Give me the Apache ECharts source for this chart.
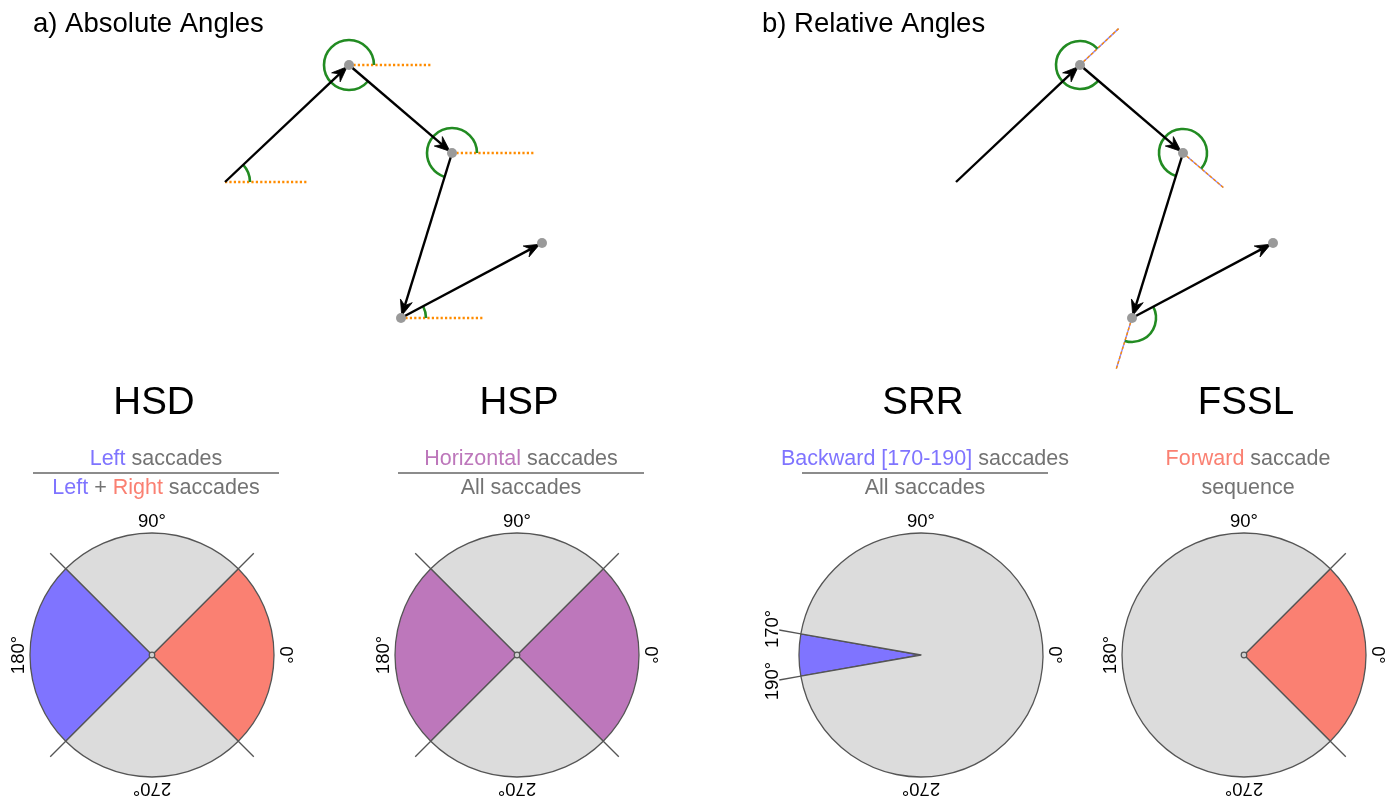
<!DOCTYPE html>
<html><head><meta charset="utf-8">
<script src="https://cdn.jsdelivr.net/npm/echarts@6/dist/echarts.min.js"></script>
<style>html,body{margin:0;padding:0;background:#fff}#c{width:1396px;height:802px}</style>
</head><body><div id="c"></div>
<script>
// ---------- DATA ----------
// Scan path: fixation positions (screen units, y up), same path in both panels
const fixX = [0, 124, 227, 176, 317];
const fixY = [0, 117, 29, -136, -61];

// Angular measures: sector spans in degrees (counter-clockwise from start angle)
const pieNames = ['HSD', 'HSP', 'SRR', 'FSSL'];
const hsdValues = [90, 90, 90, 90];
const hsdKinds = ['right', 'other', 'left', 'other'];
const hspValues = [90, 90, 90, 90];
const hspKinds = ['horizontal', 'other', 'horizontal', 'other'];
const srrValues = [20, 340];
const srrKinds = ['backward', 'other'];
const fsslValues = [90, 270];
const fsslKinds = ['forward', 'other'];
const pieStartAngles = [-45, -45, 170, -45];
const hsdTicks = [0, 90, 180, 270];
const hspTicks = [0, 90, 180, 270];
const srrTicks = [0, 90, 170, 190, 270];
const fsslTicks = [0, 90, 180, 270];

// ---------- STYLE ----------
const FONT = '"Liberation Sans", Arial, Helvetica, sans-serif';
const C = {
  blue: '#7f74ff', red: '#fa8072', purple: '#bd77bb', grey: '#dcdcdc',
  text: '#737373', edge: '#555555', green: '#228b22', orange: '#ff8c00'
};
const kindColor = { right: C.red, left: C.blue, horizontal: C.purple, backward: C.blue, forward: C.red, other: C.grey };
const pieCX = [152, 517, 921, 1244];
const pieCY = 655;
const R = 122;
const hubShown = [true, true, false, true];

const fractions = [
  { num: [['Left', C.blue], [' saccades', C.text]], den: [['Left', C.blue], [' + ', C.text], ['Right', C.red], [' saccades', C.text]], bar: true },
  { num: [['Horizontal', C.purple], [' saccades', C.text]], den: [['All saccades', C.text]], bar: true },
  { num: [['Backward [170-190]', C.blue], [' saccades', C.text]], den: [['All saccades', C.text]], bar: true },
  { num: [['Forward', C.red], [' saccade', C.text]], den: [['sequence', C.text]], bar: false }
];

// ---------- DERIVED ----------
const nFix = fixX.length;
const saccades = [];
const sacAngle = [];
for (let i = 0; i < nFix - 1; i++) {
  saccades.push([fixX[i], fixY[i], fixX[i + 1], fixY[i + 1]]);
  let a = Math.atan2(fixY[i + 1] - fixY[i], fixX[i + 1] - fixX[i]) * 180 / Math.PI;
  sacAngle.push((a + 360) % 360);
}
const dots = [];
for (let i = 1; i < nFix; i++) dots.push([fixX[i], fixY[i]]);
const absArcs = saccades.map((s, i) => [s[0], s[1], 0, sacAngle[i]]);
const absRefs = saccades.map(s => [s[0], s[1], 0]);
const relArcs = [], relRefs = [];
for (let i = 1; i < saccades.length; i++) {
  const sw = ((sacAngle[i] - sacAngle[i - 1]) % 360 + 360) % 360;
  relArcs.push([fixX[i], fixY[i], sacAngle[i - 1], sw]);
  relRefs.push([fixX[i], fixY[i], sacAngle[i - 1]]);
}

// ---------- RENDERERS ----------
function arrowRender(params, api) {
  const p0 = api.coord([api.value(0), api.value(1)]);
  const p1 = api.coord([api.value(2), api.value(3)]);
  const dx = p1[0] - p0[0], dy = p1[1] - p0[1], len = Math.hypot(dx, dy);
  const ux = dx / len, uy = dy / len, nx = -uy, ny = ux;
  const gap = 2.5, L = 15.5, W = 6.2, N = 10.5;
  const tip = [p1[0] - ux * gap, p1[1] - uy * gap];
  const back = [tip[0] - ux * L, tip[1] - uy * L];
  const notch = [tip[0] - ux * N, tip[1] - uy * N];
  return {
    type: 'group', children: [
      { type: 'line', shape: { x1: p0[0], y1: p0[1], x2: notch[0], y2: notch[1] }, style: { stroke: '#000', lineWidth: 2.4 } },
      { type: 'polygon', shape: { points: [tip, [back[0] + nx * W, back[1] + ny * W], notch, [back[0] - nx * W, back[1] - ny * W]] }, style: { fill: '#000', stroke: '#000', lineWidth: 0.8, lineJoin: 'miter' } }
    ]
  };
}
function arcRender(radius) {
  return function (params, api) {
    const c = api.coord([api.value(0), api.value(1)]);
    const a0 = api.value(2) * Math.PI / 180, sw = api.value(3) * Math.PI / 180;
    return { type: 'arc', shape: { cx: c[0], cy: c[1], r: radius, startAngle: -a0, endAngle: -(a0 + sw), clockwise: false },
      style: { stroke: C.green, lineWidth: 2.6, fill: 'none' } };
  };
}
function hRefRender(params, api) {
  const c = api.coord([api.value(0), api.value(1)]);
  return { type: 'line', shape: { x1: c[0], y1: c[1], x2: c[0] + 83, y2: c[1] },
    style: { stroke: C.orange, lineWidth: 2.3, lineDash: [2.2, 2.2] } };
}
function extRender(params, api) {
  const c = api.coord([api.value(0), api.value(1)]);
  const a = api.value(2) * Math.PI / 180, len = 53;
  const e = [c[0] + Math.cos(a) * len, c[1] - Math.sin(a) * len];
  return { type: 'group', children: [
    { type: 'line', shape: { x1: c[0], y1: c[1], x2: e[0], y2: e[1] }, style: { stroke: '#8a86ff', lineWidth: 1.4 } },
    { type: 'line', shape: { x1: c[0], y1: c[1], x2: e[0], y2: e[1] }, style: { stroke: C.orange, lineWidth: 1.4, lineDash: [3, 2] } }
  ] };
}
function boundaryRender(params, api) {
  const p1 = api.coord([api.value(0), api.value(1)]);
  const p2 = api.coord([1.18, api.value(1)]);
  return { type: 'line', shape: { x1: p1[0], y1: p1[1], x2: p2[0], y2: p2[1] }, style: { stroke: C.edge, lineWidth: 1.3 } };
}
function tickRender(ticks) {
  return function (params, api) {
    const a = ticks[params.dataIndex];
    const p = api.coord([api.value(0), api.value(1)]);
    const rot = (Math.round(a / 90) * 90 - 90) * Math.PI / 180;
    return { type: 'text', x: p[0], y: p[1], rotation: rot,
      style: { text: a + '°', fontSize: 18.5, fontFamily: FONT, fill: '#000', align: 'center', verticalAlign: 'middle' } };
  };
}
function hubRender(params, api) {
  const p = api.coord([0, 0]);
  return { type: 'circle', shape: { cx: p[0], cy: p[1], r: 2.8 }, style: { fill: '#cfcfcf', stroke: C.edge, lineWidth: 1.2 } };
}

// ---------- OPTION ----------
const series = [];
const polar = [], angleAxis = [], radiusAxis = [];
const pieValues = [hsdValues, hspValues, srrValues, fsslValues];
const pieKinds = [hsdKinds, hspKinds, srrKinds, fsslKinds];
const pieTicks = [hsdTicks, hspTicks, srrTicks, fsslTicks];

for (let g = 0; g < 2; g++) {
  if (g === 0) {
    series.push({ type: 'custom', xAxisIndex: 0, yAxisIndex: 0, data: absRefs, renderItem: hRefRender, encode: { x: 0, y: 1 }, silent: true, z: 1 });
    series.push({ type: 'custom', xAxisIndex: 0, yAxisIndex: 0, data: absArcs, renderItem: arcRender(25), encode: { x: 0, y: 1 }, silent: true, z: 2 });
  } else {
    series.push({ type: 'custom', xAxisIndex: 1, yAxisIndex: 1, data: relRefs, renderItem: extRender, encode: { x: 0, y: 1 }, silent: true, z: 1 });
    series.push({ type: 'custom', xAxisIndex: 1, yAxisIndex: 1, data: relArcs, renderItem: arcRender(24), encode: { x: 0, y: 1 }, silent: true, z: 2 });
  }
  series.push({ type: 'custom', xAxisIndex: g, yAxisIndex: g, data: saccades, renderItem: arrowRender, encode: { x: [0, 2], y: [1, 3] }, silent: true, z: 3 });
  series.push({ type: 'scatter', xAxisIndex: g, yAxisIndex: g, data: dots, symbolSize: 10, itemStyle: { color: '#9a9a9a', opacity: 1 }, silent: true, z: 4 });
}

for (let k = 0; k < 4; k++) {
  polar.push({ center: [pieCX[k], pieCY], radius: R * 1.25 });
  angleAxis.push({ polarIndex: k, type: 'value', min: 0, max: 360, startAngle: 0, clockwise: false, show: false });
  radiusAxis.push({ polarIndex: k, type: 'value', min: 0, max: 1.25, show: false });
  series.push({
    type: 'pie', center: [pieCX[k], pieCY], radius: R, startAngle: pieStartAngles[k], clockwise: false,
    silent: true, label: { show: false }, labelLine: { show: false }, z: 2,
    itemStyle: { borderColor: C.edge, borderWidth: 1.3 },
    data: pieValues[k].map((v, i) => ({ name: pieKinds[k][i], value: v, itemStyle: { color: kindColor[pieKinds[k][i]] } }))
  });
  const bounds = [];
  let acc = pieStartAngles[k];
  pieValues[k].forEach(v => { bounds.push([1.0, ((acc % 360) + 360) % 360]); acc += v; });
  series.push({ type: 'custom', coordinateSystem: 'polar', polarIndex: k, data: bounds, renderItem: boundaryRender, silent: true, z: 3 });
  series.push({ type: 'custom', coordinateSystem: 'polar', polarIndex: k,
    data: pieTicks[k].map(a => [a % 90 === 0 ? 1.09 : 1.23, a]), renderItem: tickRender(pieTicks[k]), silent: true, z: 3 });
  if (hubShown[k]) series.push({ type: 'custom', coordinateSystem: 'polar', polarIndex: k, data: [[0, 0]], renderItem: hubRender, silent: true, z: 4 });
}

const graphic = [
  { type: 'text', x: 33, y: 24, style: { text: 'a) Absolute Angles', fontSize: 27.5, fontFamily: FONT, fill: '#000', verticalAlign: 'middle' } },
  { type: 'text', x: 762, y: 24, style: { text: 'b) Relative Angles', fontSize: 27.5, fontFamily: FONT, fill: '#000', verticalAlign: 'middle' } }
];
function richText(parts) {
  const rich = {}; let txt = '';
  parts.forEach((p, i) => { rich['s' + i] = { fill: p[1], fontSize: 21.5, fontFamily: FONT }; txt += '{s' + i + '|' + p[0] + '}'; });
  return { text: txt, rich: rich };
}
for (let k = 0; k < 4; k++) {
  const fx = pieCX[k] + 4;
  graphic.push({ type: 'text', x: pieCX[k] + 2, y: 403, style: { text: pieNames[k], fontSize: 38.5, fontFamily: FONT, fill: '#000', align: 'center', verticalAlign: 'middle' } });
  const n = richText(fractions[k].num), d = richText(fractions[k].den);
  graphic.push({ type: 'text', x: fx, y: 459.5, style: Object.assign({ align: 'center', verticalAlign: 'middle', fontSize: 21.5, fontFamily: FONT }, n) });
  graphic.push({ type: 'text', x: fx, y: 488, style: Object.assign({ align: 'center', verticalAlign: 'middle', fontSize: 21.5, fontFamily: FONT }, d) });
  if (fractions[k].bar) graphic.push({ type: 'line', shape: { x1: fx - 123, y1: 473, x2: fx + 123, y2: 473 }, style: { stroke: '#8c8c8c', lineWidth: 2 } });
}

const option = {
  animation: false,
  backgroundColor: '#ffffff',
  grid: [
    { left: 195, top: 32, width: 360, height: 320 },
    { left: 926, top: 32, width: 360, height: 320 }
  ],
  xAxis: [
    { gridIndex: 0, type: 'value', min: -30, max: 330, show: false },
    { gridIndex: 1, type: 'value', min: -30, max: 330, show: false }
  ],
  yAxis: [
    { gridIndex: 0, type: 'value', min: -170, max: 150, show: false },
    { gridIndex: 1, type: 'value', min: -170, max: 150, show: false }
  ],
  polar: polar, angleAxis: angleAxis, radiusAxis: radiusAxis,
  series: series,
  graphic: graphic
};
const chart = echarts.init(document.getElementById('c'), null, { renderer: 'canvas' });
chart.setOption(option);
</script>
</body></html>
